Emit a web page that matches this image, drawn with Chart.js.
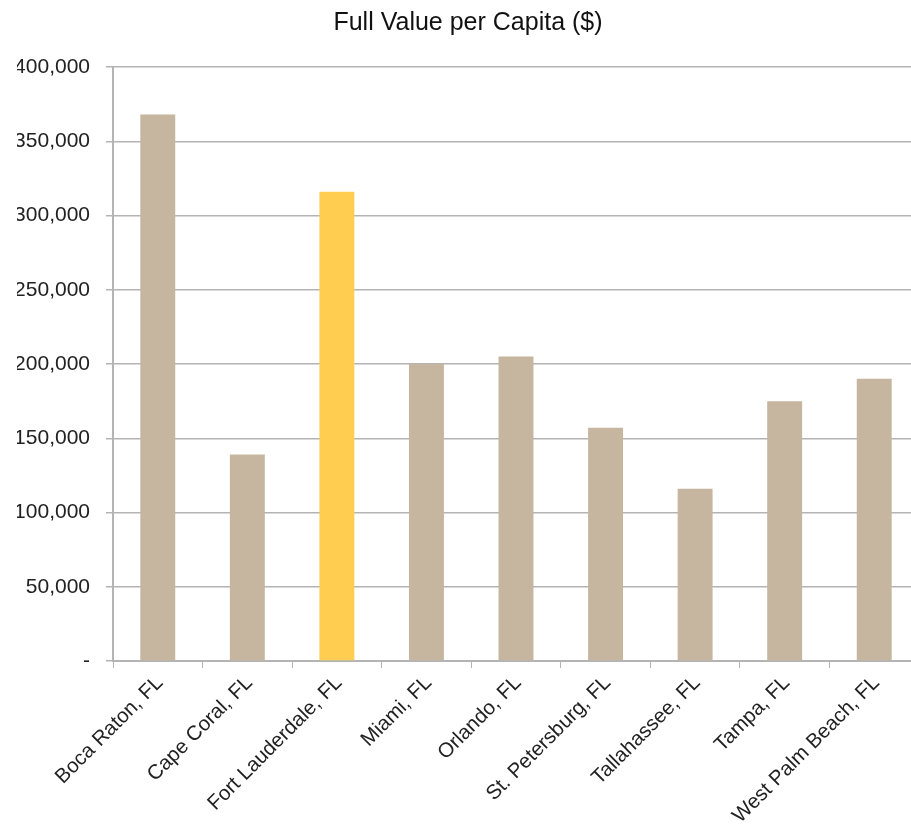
<!DOCTYPE html>
<html>
<head>
<meta charset="utf-8">
<script src="https://cdn.jsdelivr.net/npm/chart.js@4"></script>
<style>
html,body{margin:0;padding:0;background:#fff;overflow:hidden;width:911px;height:830px;}
#wrap{position:absolute;left:0;top:0;width:936px;height:830px;}
</style>
</head>
<body>
<div id="wrap"><canvas id="c" width="936" height="830"></canvas></div>
<script>
const categories = ["Boca Raton, FL","Cape Coral, FL","Fort Lauderdale, FL","Miami, FL","Orlando, FL","St. Petersburg, FL","Tallahassee, FL","Tampa, FL","West Palm Beach, FL"];
const fullValuePerCapita = [368000,139000,316000,200000,205000,157000,116000,175000,190000];
const highlightCity = "Fort Lauderdale, FL";
const titleText = "Full Value per Capita ($)";

const barColors = categories.map(c => c === highlightCity ? "#FFCD4F" : "#C6B59F");

new Chart(document.getElementById("c"), {
  type: "bar",
  data: {
    labels: categories,
    datasets: [{
      data: fullValuePerCapita,
      backgroundColor: barColors,
      borderWidth: 0,
      barPercentage: 0.39,
      categoryPercentage: 1
    }]
  },
  options: {
    responsive: false,
    animation: false,
    devicePixelRatio: 1,
    layout: { padding: { left: 17, right: 17, top: 0, bottom: 0 } },
    plugins: {
      legend: { display: false },
      tooltip: { enabled: false },
      title: {
        display: true,
        text: titleText,
        color: "#111",
        font: { family: "Liberation Sans, Arial, sans-serif", size: 25, weight: "normal" },
        padding: { top: 8, bottom: 29 }
      }
    },
    scales: {
      x: {
        grid: { display: true, drawOnChartArea: false, drawTicks: true, tickLength: 7, color: "#B4B4B4", offset: true },
        border: { display: true, color: "#B4B4B4", width: 2 },
        ticks: {
          color: "#222",
          font: { family: "Liberation Sans, Arial, sans-serif", size: 20.5 },
          maxRotation: 45, minRotation: 45,
          autoSkip: false,
          labelOffset: 2,
          padding: 3
        },
        afterFit: s => { s.height = 169; }
      },
      y: {
        min: 0, max: 400000,
        ticks: {
          stepSize: 50000,
          color: "#222",
          font: { family: "Liberation Sans, Arial, sans-serif", size: 21 },
          padding: 16,
          callback: v => v === 0 ? "-" : v.toLocaleString("en-US")
        },
        grid: { color: "#B4B4B4", lineWidth: 1.5, tickLength: 7 },
        border: { display: true, color: "#B4B4B4", width: 2 },
        afterFit: s => { s.width = 96; }
      }
    }
  }
});
</script>
</body>
</html>
